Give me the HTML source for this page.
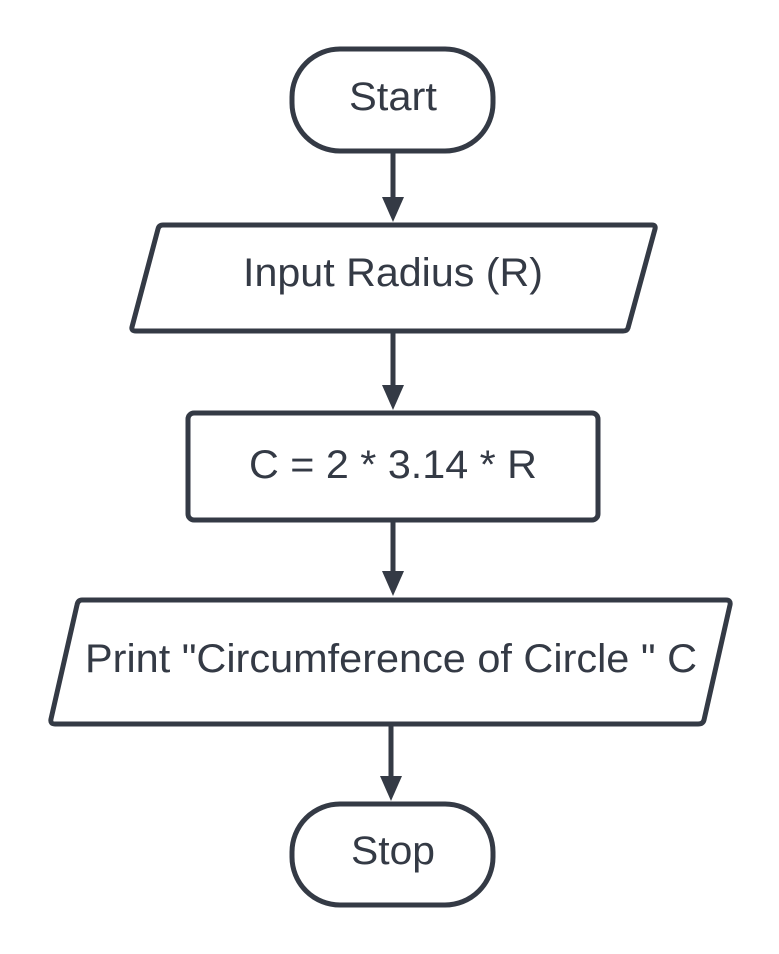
<!DOCTYPE html>
<html><head><style>html,body{margin:0;padding:0;background:#fff}svg{display:block}</style></head>
<body>
<svg width="779" height="954" viewBox="0 0 779 954" xmlns="http://www.w3.org/2000/svg">
<g fill="none" stroke="#343a45" stroke-width="5" stroke-linejoin="round">
<rect x="292" y="49" width="201" height="102" rx="48"/>
<path d="M163 225 L652 225 Q656 225 655 229 L628 328 Q627 331 623 331 L136 331 Q131 331 132 327 L158 229 Q159 225 163 225 Z"/>
<rect x="188" y="413" width="410" height="107" rx="6"/>
<path d="M82 600 L726 600 Q731 600 730 605 L704 720 Q703 724 698 724 L55 724 Q50 724 51 719 L77 605 Q78 600 82 600 Z"/>
<rect x="292" y="804" width="201" height="101" rx="48"/>
<path d="M393 152 V200 M393 333 V388 M393 522 V573 M391 726 V778"/>
</g>
<g fill="#343a45">
<polygon points="382,197 404,197 393,222"/>
<polygon points="382,385 404,385 393,410"/>
<polygon points="382,571 404,571 393,596"/>
<polygon points="380,776 402,776 391,801"/>
</g>
<g font-family="Liberation Sans, sans-serif" font-size="40" fill="#343a45" text-anchor="middle">
<text x="393" y="110" textLength="88" lengthAdjust="spacingAndGlyphs">Start</text>
<text x="393" y="286" textLength="300" lengthAdjust="spacingAndGlyphs">Input Radius (R)</text>
<text x="393" y="478" textLength="288" lengthAdjust="spacingAndGlyphs">C = 2 * 3.14 * R</text>
<text x="391" y="672" textLength="612" lengthAdjust="spacingAndGlyphs">Print "Circumference of Circle " C</text>
<text x="393" y="864" textLength="84" lengthAdjust="spacingAndGlyphs">Stop</text>
</g>
</svg>
</body></html>
